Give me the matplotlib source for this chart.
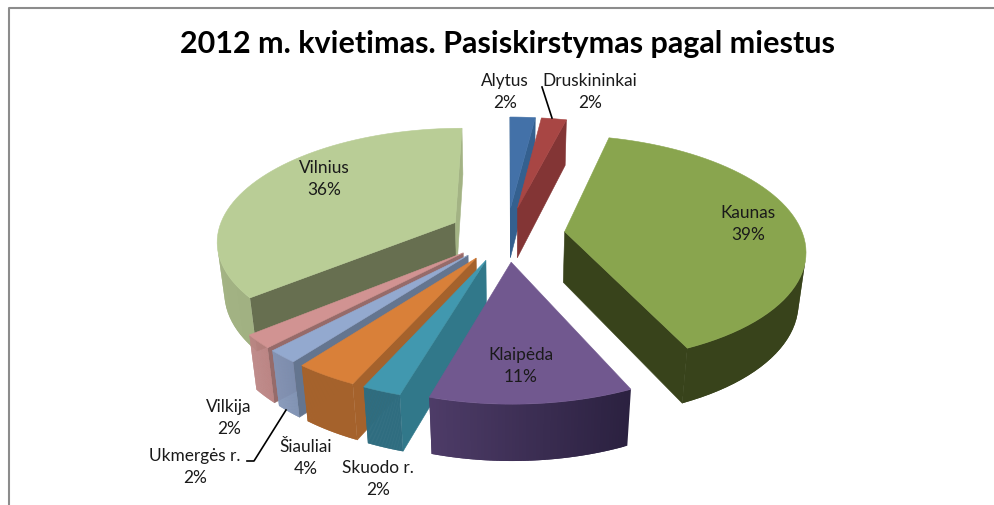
#!/usr/bin/env python3
"""2012 m. kvietimas: exploded 3D pie, projected by hand onto a plain axes."""

import matplotlib

matplotlib.use("Agg")
import matplotlib.pyplot as plt
import numpy as np
from matplotlib.colors import to_rgb
from matplotlib.patches import Polygon

TITLE = "2012 m. kvietimas. Pasiskirstymas pagal miestus"

cities = ["Alytus", "Druskininkai", "Kaunas", "Klaipėda", "Skuodo r.",
          "Šiauliai", "Ukmergės r.", "Vilkija", "Vilnius"]
shares = [2.0, 2.0, 39.2, 11.4, 2.2, 3.6, 1.8, 1.9, 35.9]

top_colors = ["#4371a8", "#a84644", "#89a54e", "#71588f", "#4198af",
              "#d98039", "#93a9cf", "#d19392", "#b9cd96"]
start_colors = ["#34608f", "#833535", "#38431b", "#3e2f52", "#31788a",
                "#a5622c", "#64758f", "#966b6a", "#676f50"]
end_colors = ["#34608f", "#833535", "#38431b", "#3e2f52", "#31788a",
              "#a5622c", "#64758f", "#966b6a", "#a3b384"]
wall_left = ["#34608f", "#7c3130", "#38431b", "#4e3c68", "#2f6d80",
             "#a5622c", "#8496b8", "#bc8584", "#a3b384"]
wall_right = ["#2c5178", "#7c3130", "#38431b", "#2b2140", "#2f6d80",
              "#a5622c", "#7c8fb1", "#b97f7e", "#93a274"]
draw_order = [8, 0, 1, 7, 6, 5, 4, 3, 2]

label_xy = [(505, 92), (590, 92), (748, 224), (521, 366), (378, 479),
            (306, 458), (195, 467), (229, 418), (324, 179)]

# projection, in pixels of the 995x506 picture
CX, CY = 507, 235
SX, SY = 238, 111.5
PERSP_Y, PERSP_Z = 0.149, 0.025
DEPTH = 52
EXPLODE = 0.244


def project(x, y, z):
    f = 1 / (1 + PERSP_Y * y + PERSP_Z * z)
    return CX + SX * x * f, CY - SY * y * f + DEPTH * z * f


def slice_points(start, end, n=60):
    theta = np.radians(np.linspace(start, end, n))
    mid = np.radians((start + end) / 2)
    ox, oy = EXPLODE * np.sin(mid), EXPLODE * np.cos(mid)
    return ox, oy, ox + np.sin(theta), oy + np.cos(theta)


def add_poly(ax, pts, color, zorder, lw=0.4):
    ax.add_patch(Polygon(pts, closed=True, facecolor=color, edgecolor=color,
                         linewidth=lw, zorder=zorder))


def signed_area(pts):
    # y runs downward here, so clockwise on screen comes out positive
    pts = np.asarray(pts)
    x, y = pts[:, 0], pts[:, 1]
    return 0.5 * np.sum(x * np.roll(y, -1) - y * np.roll(x, -1))


def draw_slice(ax, i, start, end, zorder):
    ox, oy, xs, ys = slice_points(start, end)

    # radial faces: the start edge shows when its quad winds one way, the end edge the other
    start_quad = [project(ox, oy, 0), project(xs[0], ys[0], 0),
                  project(xs[0], ys[0], 1), project(ox, oy, 1)]
    end_quad = [project(ox, oy, 0), project(xs[-1], ys[-1], 0),
                project(xs[-1], ys[-1], 1), project(ox, oy, 1)]
    if signed_area(start_quad) < 0:
        add_poly(ax, start_quad, start_colors[i], zorder)
    if signed_area(end_quad) > 0:
        add_poly(ax, end_quad, end_colors[i], zorder)

    # outer wall, shaded strip by strip; each strip runs under the next to hide seams
    left, right = np.array(to_rgb(wall_left[i])), np.array(to_rgb(wall_right[i]))
    px = [project(x, y, 0)[0] for x, y in zip(xs, ys)]
    lo, hi = min(px), max(px)
    for j in range(len(xs) - 1):
        k = min(j + 2, len(xs) - 1)
        quad = [project(xs[j], ys[j], 0), project(xs[k], ys[k], 0),
                project(xs[k], ys[k], 1), project(xs[j], ys[j], 1)]
        if signed_area(quad) >= 0:
            continue
        t = (px[j] - lo) / max(hi - lo, 1e-6)
        ax.add_patch(Polygon(quad, closed=True, facecolor=tuple(left + (right - left) * t),
                             edgecolor="none", zorder=zorder + 0.1))

    top = [project(ox, oy, 0)] + [project(x, y, 0) for x, y in zip(xs, ys)]
    add_poly(ax, top, top_colors[i], zorder + 0.2)


def main():
    plt.rcParams["font.family"] = ["Lato", "DejaVu Sans"]

    fig = plt.figure(figsize=(9.95, 5.06), dpi=100)
    ax = fig.add_axes([0, 0, 1, 1])
    ax.set_xlim(0, 995)
    ax.set_ylim(506, 0)
    ax.axis("off")

    # chart frame, cut off by the screenshot at the bottom and right
    ax.plot([9, 9, 995], [506, 9, 9], color="#8c8c8c", lw=1.5, zorder=1)

    bounds = np.cumsum([0] + shares) * 3.6
    for z, i in enumerate(draw_order):
        draw_slice(ax, i, bounds[i], bounds[i + 1], 2 + z)

    # leader lines
    ax.plot([542, 552], [88, 119], color="black", lw=1.2, zorder=20)
    ax.plot([286, 254, 247], [411, 462, 462], color="black", lw=1.2, zorder=20)

    ax.text(507, 44, TITLE, ha="center", va="center", fontsize=22,
            fontweight="bold", color="black", zorder=30)
    for name, share, (x, y) in zip(cities, shares, label_xy):
        ax.text(x, y, f"{name}\n{share:.0f}%", ha="center", va="center", fontsize=12.4,
                color="#1a1a1a", linespacing=1.4, zorder=30)

    fig.savefig("out.png", dpi=100)
    plt.close(fig)


if __name__ == "__main__":
    main()
